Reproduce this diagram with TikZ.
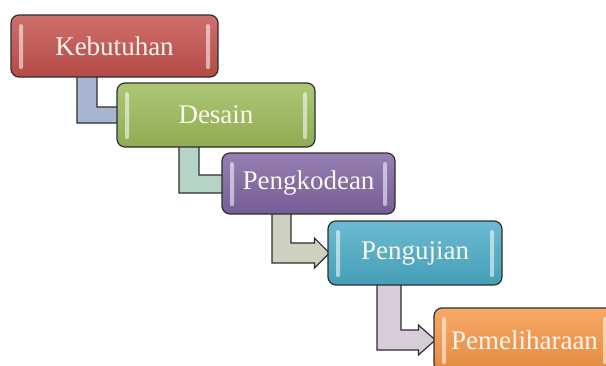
\documentclass[tikz,border=0pt]{standalone}
\usepackage{fontspec}
\setmainfont{Liberation Serif}
\usetikzlibrary{calc}

\pgfdeclarelayer{behind}
\pgfsetlayers{behind,main}

\definecolor{redbox}{HTML}{C4504C}
\definecolor{greenbox}{HTML}{9BBB59}
\definecolor{purplebox}{HTML}{8064A2}
\definecolor{aquabox}{HTML}{4BACC6}
\definecolor{orangebox}{HTML}{F79646}
\definecolor{connA}{HTML}{A8B5D0}
\definecolor{connB}{HTML}{B6D4C6}
\definecolor{connC}{HTML}{CED0C0}
\definecolor{connD}{HTML}{D6CDD9}
\definecolor{outline}{HTML}{2E2E2E}
\definecolor{textcream}{HTML}{FDF6EE}

\tikzset{
  gloss/.style={fill=white, fill opacity=0.55, rounded corners=1.5pt, draw=none},
  stage/.style={
    rounded corners=8pt, draw=outline, line width=1.2pt, inner sep=0pt,
    font=\fontsize{27}{30}\selectfont, text=textcream,
    top color=#1!82!white, bottom color=#1!92!black,
    path picture={
      \fill[gloss] ([xshift=8pt,yshift=-9pt]path picture bounding box.north west)
        rectangle ([xshift=12pt,yshift=8pt]path picture bounding box.south west);
      \fill[gloss] ([xshift=-12pt,yshift=-9pt]path picture bounding box.north east)
        rectangle ([xshift=-8pt,yshift=8pt]path picture bounding box.south east);
    }},
  conn/.style={draw=outline, line width=1.2pt, line join=miter, fill=#1}
}

% L-shaped block arrow from the bottom of #1 into the left side of #2
% #3,#4: vertical bar x range; #5,#6: horizontal bar y range;
% #7: head start and #8: tip, both relative to the west side of #2; #9: fill
\newcommand{\elbow}[9]{%
  \path[conn=#9] let \p1=(#1.south), \p2=(#2.west) in
    (#3pt,\y1+6pt) -- (#4pt,\y1+6pt) -- (#4pt,-#5pt) -- (\x2+#7pt,-#5pt)
    -- (\x2+#7pt,-#5pt+5pt) -- (\x2+#8pt,-#5pt/2-#6pt/2)
    -- (\x2+#7pt,-#6pt-5pt) -- (\x2+#7pt,-#6pt) -- (#3pt,-#6pt) -- cycle;
}

\begin{document}
\begin{tikzpicture}[x=1pt,y=-1pt]
  \useasboundingbox (0,0) rectangle (606,365);

  \node[stage=redbox,    minimum width=207pt, minimum height=62pt] (k) at (114.5,46)  {Kebutuhan};
  \node[stage=greenbox,  minimum width=198pt, minimum height=64pt] (d) at (216,115)   {Desain};
  \node[stage=purplebox, minimum width=173pt, minimum height=61pt] (p) at (308.5,183.5) {Pengkodean};
  \node[stage=aquabox,   minimum width=174pt, minimum height=64pt] (u) at (415,253)   {Pengujian};
  \node[stage=orangebox, minimum width=181pt, minimum height=64pt] (m) at (524.5,340) {Pemeliharaan};

  \begin{pgfonlayer}{behind}
    \elbow{k}{d}{77}{97}{107}{123}{3}{4}{connA}
    \elbow{d}{p}{179}{199}{175}{193}{3}{4}{connB}
    \elbow{p}{u}{272}{291}{243}{263}{-13}{2}{connC}
    \elbow{u}{m}{377}{401}{330}{350}{-15}{2}{connD}
  \end{pgfonlayer}
\end{tikzpicture}
\end{document}
